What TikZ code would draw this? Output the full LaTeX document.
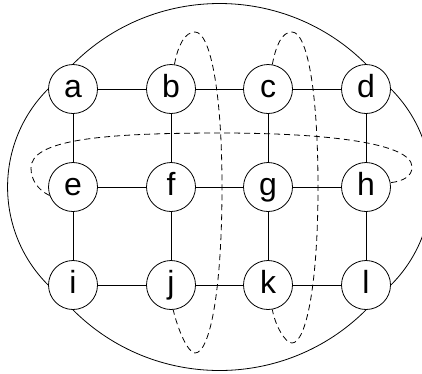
\documentclass[tikz,border=0pt]{standalone}
\usepackage{fontspec}
\setmainfont{Liberation Sans}
\begin{document}
\begin{tikzpicture}[x=1pt,y=-1pt,
  vertex/.style={circle,draw,line width=0.8pt,minimum size=49pt,inner sep=0pt,
    text height=23pt,text depth=7pt,font=\fontsize{32}{32}\selectfont},
  edge/.style={line width=0.8pt},
  loopline/.style={line width=0.8pt,dash pattern=on 6pt off 4pt}]
\useasboundingbox (0,0) rectangle (422,373);
\clip (0,0) rectangle (422,373);
% grid of vertices
\node[vertex] (a) at (73,89) {a};
\node[vertex] (b) at (171,89) {b};
\node[vertex] (c) at (268,89) {c};
\node[vertex] (d) at (366,89) {d};
\node[vertex] (e) at (73,187) {e};
\node[vertex] (f) at (171,187) {f};
\node[vertex] (g) at (268,187) {g};
\node[vertex] (h) at (366,187) {h};
\node[vertex] (i) at (73,285) {i};
\node[vertex] (j) at (171,285) {j};
\node[vertex] (k) at (268,285) {k};
\node[vertex] (l) at (366,285) {l};
% grid edges
\foreach \u/\v in {a/b,b/c,c/d,e/f,f/g,g/h,i/j,j/k,k/l,a/e,e/i,b/f,f/j,c/g,g/k,d/h,h/l}
  \draw[edge] (\u) -- (\v);
% outer wrap-around edges
\draw[edge] (a.north) to[out=45,in=135] (d.north);
\draw[edge] (i.south) to[out=-45,in=-135] (l.south);
\draw[edge] (a.west) to[out=225,in=135] (i.west);
\draw[edge] (d.east) to[out=-45,in=45] (l.east);
% dashed cycles
\draw[loopline] (b.82) .. controls (178,45) and (185,32) .. (195,32)
  .. controls (210,32) and (222,90) .. (222,187)
  .. controls (222,290) and (210,353) .. (195,353)
  .. controls (188,353) and (178,330) .. (j.-85);
\draw[loopline] (c.80) .. controls (276,45) and (282,32) .. (292,32)
  .. controls (307,32) and (318,90) .. (318,187)
  .. controls (318,285) and (306,343) .. (292,343)
  .. controls (285,343) and (275,325) .. (k.-80);
\draw[loopline] (e.200) .. controls (38,190) and (31,180) .. (31,168)
  .. controls (31,140) and (100,133) .. (221,133)
  .. controls (320,133) and (412,142) .. (412,167)
  .. controls (412,176) and (404,181) .. (h.10);
\end{tikzpicture}
\end{document}
